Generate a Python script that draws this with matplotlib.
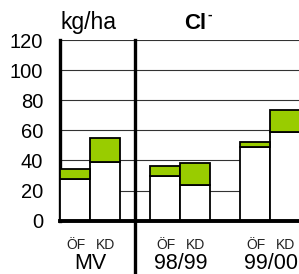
import matplotlib.pyplot as plt

plt.rcParams['font.family'] = ['Liberation Sans', 'DejaVu Sans']

# data (kg/ha)
groups = ['MV', '98/99', '99/00']
subs = ['ÖF', 'KD']
base = [28, 39, 30, 24, 49, 59]      # white part
extra = [6.5, 16, 6, 14, 3.5, 14.5]  # green part on top
yticks = [0, 20, 40, 60, 80, 100, 120]

green = '#99cc00'

fig = plt.figure(figsize=(2.99, 2.74), dpi=100)
ax = fig.add_axes([60 / 299, (274 - 220.7) / 274, 1 - 60 / 299, 180.7 / 274])

# bar slots: two bars per group, one empty slot between groups
pos = []
for g in range(len(groups)):
    pos += [g * 3, g * 3 + 1]

ax.bar(pos, base, width=1, color='white', edgecolor='black', linewidth=1.3, zorder=3)
ax.bar(pos, extra, width=1, bottom=base, color=green, edgecolor='black',
       linewidth=1.3, zorder=3)

ax.set_xlim(-0.5, (299 - 60) / 30 - 0.5)
ax.set_ylim(0, 120)
ax.set_yticks(yticks)
ax.set_xticks([])
ax.tick_params(axis='y', length=0, pad=12, labelsize=14.5)
for y in yticks[1:]:
    ax.axhline(y, color='#333333', linewidth=0.8, zorder=1)

for s in ['top', 'right']:
    ax.spines[s].set_visible(False)
ax.spines['left'].set_linewidth(2.4)
ax.spines['bottom'].set_linewidth(2.8)
ax.spines['bottom'].set_zorder(4)

# separator between MV and the years
ax.axvline(2, ymin=-0.32, ymax=1, color='black', linewidth=2.4, clip_on=False, zorder=4)

# labels under the bars
for i, p in enumerate(pos):
    ax.text(p + 0.03, -16, subs[i % 2], ha='center', va='center', fontsize=10,
            color='#222222')
for g, name in enumerate(groups):
    ax.text(g * 3 + 0.52, -32.2, name, ha='center', va='baseline', fontsize=15.5)

ax.text(-0.5, 124, 'kg/ha', ha='left', va='bottom', fontsize=16.5)
ax.text(4.0, 124, 'Cl', ha='center', va='bottom', fontsize=16, fontweight='bold')
ax.text(4.5, 132, '-', ha='center', va='bottom', fontsize=10, fontweight='bold')

fig.savefig('out.png', dpi=100)
